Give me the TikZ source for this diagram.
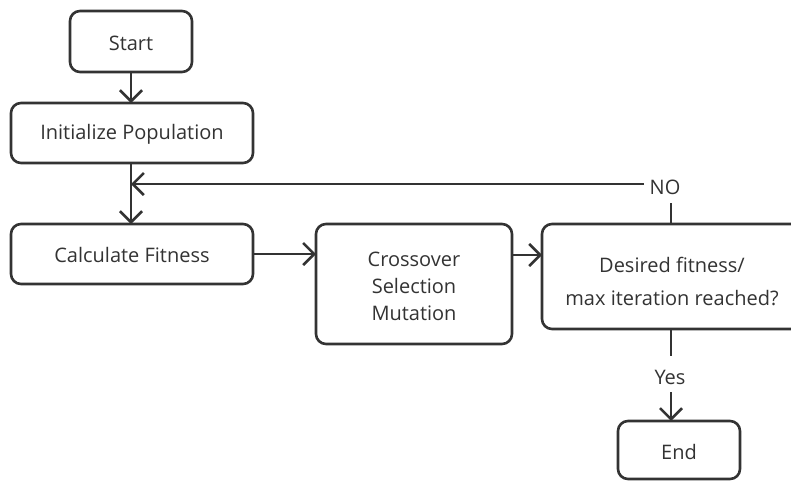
\documentclass[tikz,border=0pt]{standalone}
\usepackage{fontspec}
\setmainfont{Open Sans}
\usetikzlibrary{arrows.meta,calc}
\definecolor{ink}{HTML}{333333}
\begin{document}
\begin{tikzpicture}[x=1pt,y=-1pt,
  box/.style={draw=ink, line width=2.6pt, rounded corners=10pt, fill=white},
  lbl/.style={text=ink, font=\fontsize{20}{27}\selectfont, align=center},
  widelbl/.style={lbl, font=\fontsize{20}{33}\selectfont},
  conn/.style={draw=ink, line width=2.6pt, -{Straight Barb[length=11pt,width=22pt,line width=2.6pt]}},
  plain/.style={draw=ink, line width=2.6pt}]
\useasboundingbox (0,0) rectangle (791,480);
\begin{scope}
\clip (0,0) rectangle (791,480);
% process boxes
\draw[box] (70,11) rectangle (192,72);
\node[lbl] (start) at (131,43) {Start};
\draw[box] (11,103) rectangle (253,163);
\node[lbl] (init) at (132,134) {Initialize Population};
\draw[box] (11,224) rectangle (253,284);
\node[lbl] (calc) at (132,255) {Calculate Fitness};
\draw[box] (316,224) rectangle (512,344);
\node[lbl] (cross) at (414,286) {Crossover\\Selection\\Mutation};
\draw[box] (542,224) rectangle (802,329);
\node[widelbl] (des) at (672,281) {Desired fitness/\\max iteration reached?};
\draw[box] (618,421) rectangle (740,479);
\node[lbl] (end) at (679,452) {End};
% anchor points on the box borders
\coordinate (startB) at (131,72);
\coordinate (initT) at (131,103);
\coordinate (initB) at (131,163);
\coordinate (calcT) at (131,224);
\coordinate (calcR) at (253,254);
\coordinate (crossL) at (316,254);
\coordinate (crossR) at (512,255);
\coordinate (desL) at (542,255);
\coordinate (desT) at (671,224);
\coordinate (desB) at (671,329);
\coordinate (endT) at (671,421);
\coordinate (loop) at (131,184);
\coordinate (noA) at (671,203);
\coordinate (noB) at (644,184);
\coordinate (yesA) at (671,356);
\coordinate (yesB) at (671,392);
\end{scope}
% labels on the decision branches
\node[lbl] (no) at (665,187) {NO};
\node[lbl] (yes) at (670,377) {Yes};
% connectors
\draw[conn] (startB) -- (initT);
\draw[conn] (initB) -- (calcT);
\draw[conn] (calcR) -- (crossL);
\draw[conn] (crossR) -- (desL);
\draw[plain] (desT) -- (noA);
\draw[conn] (noB) -- (loop);
\draw[plain] (desB) -- (yesA);
\draw[conn] (yesB) -- (endT);
\end{tikzpicture}
\end{document}
